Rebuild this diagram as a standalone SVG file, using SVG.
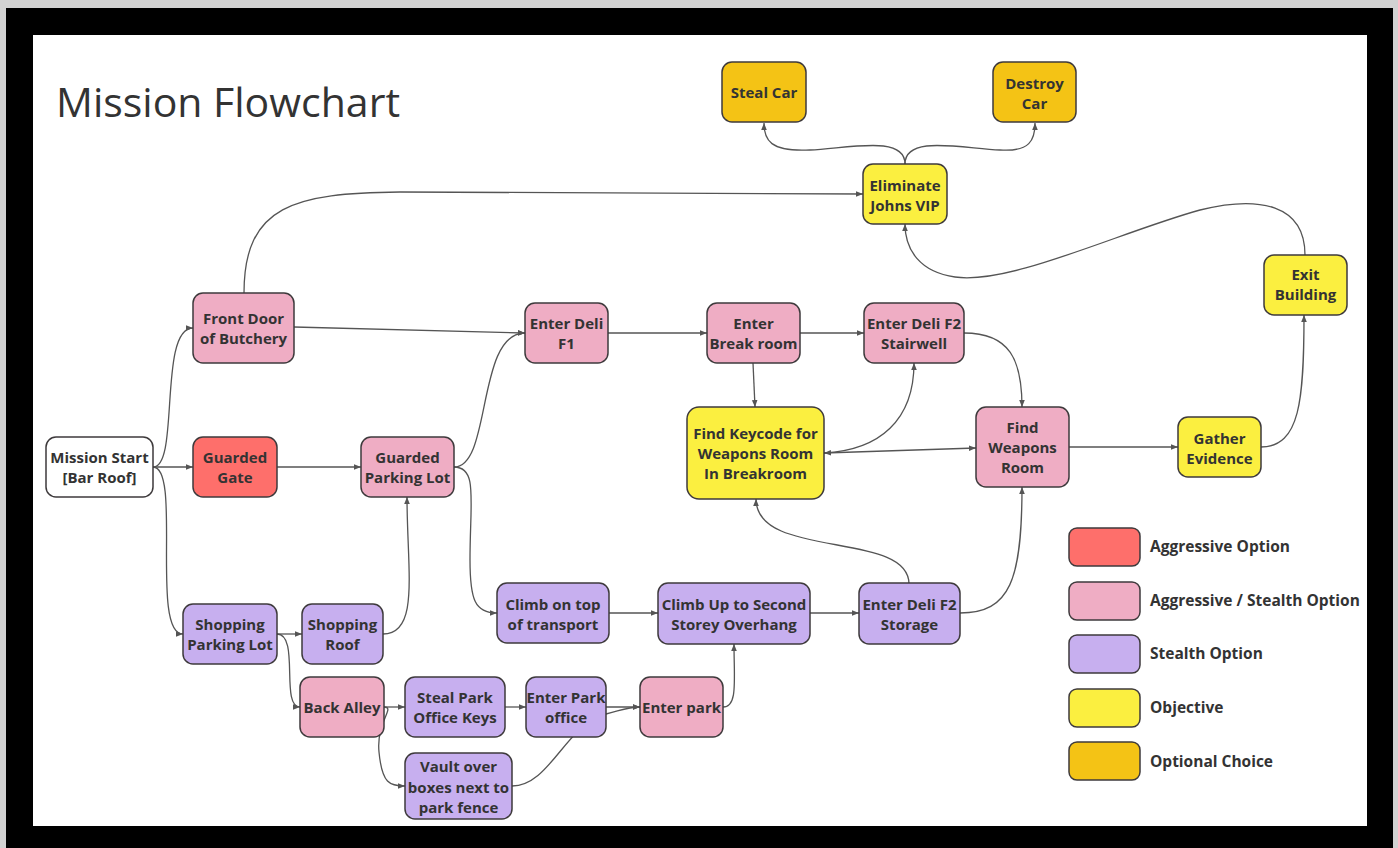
<svg xmlns="http://www.w3.org/2000/svg" width="1398" height="848" viewBox="0 0 1398 848">
<style>
.bg{fill:#d2d2d2}
.node rect{stroke:#3e3a3c;stroke-width:1.5}
.red{fill:#FE6F6B}.pink{fill:#EFADC4}.purple{fill:#C7AFEF}.yellow{fill:#FBEF40}.orange{fill:#F4C315}.white{fill:#ffffff}
text{font-family:"Open Sans","DejaVu Sans",sans-serif;fill:#333}
.t{font-weight:700;font-size:15px;text-anchor:middle}
.lg{font-weight:700;font-size:15.5px}
.title{font-weight:400;font-size:41px}
.edges path{fill:none;stroke:#555;stroke-width:1.3}
</style>
<defs>
<marker id="arr" viewBox="0 0 10 10" refX="10" refY="5" markerWidth="7" markerHeight="7" orient="auto-start-reverse" markerUnits="userSpaceOnUse">
<path d="M0,1 L10,5 L0,9 z" fill="#555"/>
</marker>
</defs>
<rect class="bg" x="0" y="0" width="1398" height="848"/>
<rect x="6" y="8" width="1387" height="840" fill="#000"/>
<rect x="33" y="35" width="1334" height="791" fill="#fff"/>
<text class="title" x="56" y="117">Mission Flowchart</text>

<g class="edges">
<path d="M153,467 C180,467 158,328 193,328" marker-end="url(#arr)"/>
<path d="M153,467 L193,467" marker-end="url(#arr)"/>
<path d="M153,467 C182,467 150,634 183,634" marker-end="url(#arr)"/>
<path d="M244,293 C244,205 295,193 400,192 L863,194" marker-end="url(#arr)"/>
<path d="M294,327 L525,333" marker-end="url(#arr)"/>
<path d="M277,467 L361,467" marker-end="url(#arr)"/>
<path d="M454,467 C492,467 476,333 525,333" marker-end="url(#arr)"/>
<path d="M454,467 C478,467 470,500 470,560 C470,600 475,613 497,613" marker-end="url(#arr)"/>
<path d="M277,634 L302,634" marker-end="url(#arr)"/>
<path d="M383,634 C420,634 407,570 407,497" marker-end="url(#arr)"/>
<path d="M277,634 C300,634 280,707 300,707" marker-end="url(#arr)"/>
<path d="M384,707 L405,707" marker-end="url(#arr)"/>
<path d="M384,707 C396,707 376,722 379,752 C382,784 390,786 405,786" marker-end="url(#arr)"/>
<path d="M505,707 L526,707" marker-end="url(#arr)"/>
<path d="M606,707 L640,707" marker-end="url(#arr)"/>
<path d="M512,786 C550,786 565,725 606,714 C622,710 628,707 640,707" marker-end="url(#arr)"/>
<path d="M723,707 C738,707 734,680 734,644" marker-end="url(#arr)"/>
<path d="M609,613 L658,613" marker-end="url(#arr)"/>
<path d="M810,613 L859,613" marker-end="url(#arr)"/>
<path d="M909,584 C909,530 756,560 756,499" marker-end="url(#arr)"/>
<path d="M960,613 C1010,613 1022,580 1022,487" marker-end="url(#arr)"/>
<path d="M608,333 L707,333" marker-end="url(#arr)"/>
<path d="M800,333 L864,333" marker-end="url(#arr)"/>
<path d="M753,363 L755,407" marker-end="url(#arr)"/>
<path d="M964,333 C1010,333 1022,360 1022,407" marker-end="url(#arr)"/>
<path d="M824,453 C880,450 914,420 914,363" marker-end="url(#arr)"/>
<path d="M824,453 L976,448" marker-start="url(#arr)" marker-end="url(#arr)"/>
<path d="M1069,447 L1178,447" marker-end="url(#arr)"/>
<path d="M1261,447 C1300,447 1304,400 1304,315" marker-end="url(#arr)"/>
<path d="M1305,255 C1305,205 1260,195 1200,210 C1120,232 1010,285 955,277 C920,272 905,250 905,224" marker-end="url(#arr)"/>
<path d="M905,164 C905,135 850,148 810,150 C770,152 764,140 764,123" marker-end="url(#arr)"/>
<path d="M905,164 C905,135 960,148 1000,150 C1030,152 1035,140 1035,123" marker-end="url(#arr)"/>
</g>

<g id="n-mission-start" class="node"><rect class="white" x="46" y="437" width="107" height="60" rx="10"/><text class="t"><tspan x="99.5" y="463">Mission Start</tspan><tspan x="99.5" y="483">[Bar Roof]</tspan></text></g>
<g id="n-front-door" class="node"><rect class="pink" x="193" y="293" width="101" height="70" rx="10"/><text class="t"><tspan x="243.5" y="323.5">Front Door</tspan><tspan x="243.5" y="343.5">of Butchery</tspan></text></g>
<g id="n-guarded-gate" class="node"><rect class="red" x="193" y="437" width="84" height="60" rx="10"/><text class="t"><tspan x="235" y="463">Guarded</tspan><tspan x="235" y="483">Gate</tspan></text></g>
<g id="n-guarded-parking" class="node"><rect class="pink" x="361" y="437" width="93" height="60" rx="10"/><text class="t"><tspan x="407.5" y="463">Guarded</tspan><tspan x="407.5" y="483">Parking Lot</tspan></text></g>
<g id="n-deli-f1" class="node"><rect class="pink" x="525" y="303" width="83" height="60" rx="10"/><text class="t"><tspan x="566.5" y="329">Enter Deli</tspan><tspan x="566.5" y="349">F1</tspan></text></g>
<g id="n-break-room" class="node"><rect class="pink" x="707" y="303" width="93" height="60" rx="10"/><text class="t"><tspan x="753.5" y="329">Enter</tspan><tspan x="753.5" y="349">Break room</tspan></text></g>
<g id="n-f2-stairwell" class="node"><rect class="pink" x="864" y="303" width="100" height="60" rx="10"/><text class="t"><tspan x="914" y="329">Enter Deli F2</tspan><tspan x="914" y="349">Stairwell</tspan></text></g>
<g id="n-keycode" class="node"><rect class="yellow" x="687" y="407" width="137" height="92" rx="12"/><text class="t"><tspan x="755.5" y="439">Find Keycode for</tspan><tspan x="755.5" y="459">Weapons Room</tspan><tspan x="755.5" y="479">In Breakroom</tspan></text></g>
<g id="n-weapons" class="node"><rect class="pink" x="976" y="407" width="93" height="80" rx="10"/><text class="t"><tspan x="1022.5" y="432.5">Find</tspan><tspan x="1022.5" y="452.5">Weapons</tspan><tspan x="1022.5" y="472.5">Room</tspan></text></g>
<g id="n-gather" class="node"><rect class="yellow" x="1178" y="417" width="83" height="60" rx="10"/><text class="t"><tspan x="1219.5" y="443.5">Gather</tspan><tspan x="1219.5" y="463.5">Evidence</tspan></text></g>
<g id="n-exit" class="node"><rect class="yellow" x="1264" y="255" width="83" height="60" rx="10"/><text class="t"><tspan x="1305.5" y="280">Exit</tspan><tspan x="1305.5" y="300">Building</tspan></text></g>
<g id="n-vip" class="node"><rect class="yellow" x="863" y="164" width="84" height="60" rx="10"/><text class="t"><tspan x="905" y="191">Eliminate</tspan><tspan x="905" y="211">Johns VIP</tspan></text></g>
<g id="n-steal-car" class="node"><rect class="orange" x="722" y="62" width="84" height="60" rx="10"/><text class="t"><tspan x="764" y="97.5">Steal Car</tspan></text></g>
<g id="n-destroy-car" class="node"><rect class="orange" x="993" y="62" width="83" height="60" rx="10"/><text class="t"><tspan x="1034.5" y="88.5">Destroy</tspan><tspan x="1034.5" y="108.5">Car</tspan></text></g>
<g id="n-climb-transport" class="node"><rect class="purple" x="497" y="583" width="112" height="60" rx="10"/><text class="t"><tspan x="553" y="610">Climb on top</tspan><tspan x="553" y="630">of transport</tspan></text></g>
<g id="n-climb-overhang" class="node"><rect class="purple" x="658" y="583" width="152" height="61" rx="10"/><text class="t"><tspan x="734" y="610">Climb Up to Second</tspan><tspan x="734" y="630">Storey Overhang</tspan></text></g>
<g id="n-f2-storage" class="node"><rect class="purple" x="859" y="583" width="101" height="61" rx="10"/><text class="t"><tspan x="909.5" y="610">Enter Deli F2</tspan><tspan x="909.5" y="630">Storage</tspan></text></g>
<g id="n-shopping-parking" class="node"><rect class="purple" x="183" y="604" width="94" height="60" rx="10"/><text class="t"><tspan x="230" y="629.5">Shopping</tspan><tspan x="230" y="650">Parking Lot</tspan></text></g>
<g id="n-shopping-roof" class="node"><rect class="purple" x="302" y="604" width="81" height="60" rx="10"/><text class="t"><tspan x="342.5" y="629.5">Shopping</tspan><tspan x="342.5" y="650">Roof</tspan></text></g>
<g id="n-back-alley" class="node"><rect class="pink" x="300" y="677" width="84" height="60" rx="10"/><text class="t"><tspan x="342" y="713">Back Alley</tspan></text></g>
<g id="n-steal-keys" class="node"><rect class="purple" x="405" y="677" width="100" height="60" rx="10"/><text class="t"><tspan x="455" y="703">Steal Park</tspan><tspan x="455" y="723">Office Keys</tspan></text></g>
<g id="n-park-office" class="node"><rect class="purple" x="526" y="677" width="80" height="60" rx="10"/><text class="t"><tspan x="566" y="703">Enter Park</tspan><tspan x="566" y="723">office</tspan></text></g>
<g id="n-enter-park" class="node"><rect class="pink" x="640" y="677" width="83" height="60" rx="10"/><text class="t"><tspan x="681.5" y="713">Enter park</tspan></text></g>
<g id="n-vault" class="node"><rect class="purple" x="405" y="753" width="107" height="66" rx="10"/><text class="t"><tspan x="458.5" y="772">Vault over</tspan><tspan x="458.5" y="792.5">boxes next to</tspan><tspan x="458.5" y="812.5">park fence</tspan></text></g>

<g id="legend" class="node">
<rect class="red" x="1069" y="528" width="71" height="38" rx="8"/>
<rect class="pink" x="1069" y="582" width="71" height="38" rx="8"/>
<rect class="purple" x="1069" y="635" width="71" height="38" rx="8"/>
<rect class="yellow" x="1069" y="689" width="71" height="38" rx="8"/>
<rect class="orange" x="1069" y="742" width="71" height="38" rx="8"/>
<text class="lg" x="1150" y="552">Aggressive Option</text>
<text class="lg" x="1150" y="606">Aggressive / Stealth Option</text>
<text class="lg" x="1150" y="659">Stealth Option</text>
<text class="lg" x="1150" y="713">Objective</text>
<text class="lg" x="1150" y="767">Optional Choice</text>
</g>
</svg>
